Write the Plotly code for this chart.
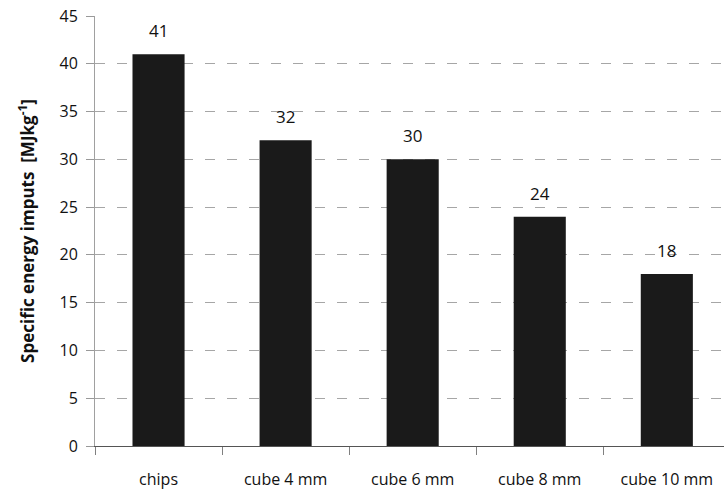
import plotly.graph_objects as go

categories = ["chips", "cube 4 mm", "cube 6 mm", "cube 8 mm", "cube 10 mm"]
energy = [41, 32, 30, 24, 18]
y_ticks = [0, 5, 10, 15, 20, 25, 30, 35, 40, 45]

font_family = "Open Sans, Liberation Sans, sans-serif"

fig = go.Figure()
fig.add_trace(go.Bar(
    x=categories,
    y=energy,
    width=0.41,
    marker=dict(color="#1a1a1a", line=dict(width=0)),
    showlegend=False,
))

# value labels above each bar
for c, v in zip(categories, energy):
    fig.add_annotation(
        x=c, y=v, text=str(v), showarrow=False,
        yanchor="bottom", yshift=10,
        font=dict(family=font_family, size=17, color="#111111"),
    )

fig.update_layout(
    width=724, height=493,
    margin=dict(l=95, r=0, t=16, b=47),
    paper_bgcolor="white",
    plot_bgcolor="white",
    xaxis=dict(
        range=[-0.5, 4.45],
        tickson="boundaries",
        ticks="outside",
        ticklen=8,
        tickcolor="#808080",
        showline=True,
        linecolor="#555555",
        linewidth=1,
        showgrid=False,
        ticklabelstandoff=19,
        tickfont=dict(family=font_family, size=16, color="#111111"),
    ),
    yaxis=dict(
        range=[0, 45],
        tickvals=y_ticks,
        ticks="outside",
        ticklen=8,
        tickcolor="#999999",
        showline=True,
        linecolor="#a0a0a0",
        linewidth=1,
        showgrid=True,
        gridcolor="#a6a6a6",
        griddash="10px,12px",
        gridwidth=1,
        zeroline=False,
        ticklabelstandoff=5,
        tickfont=dict(family=font_family, size=16, color="#111111"),
        title=dict(
            text="<b>Specific energy imputs  [MJkg<sup>-1</sup>]</b>",
            font=dict(family=font_family, size=17, color="#111111"),
            standoff=20,
        ),
    ),
)

fig.write_html("out.html")
